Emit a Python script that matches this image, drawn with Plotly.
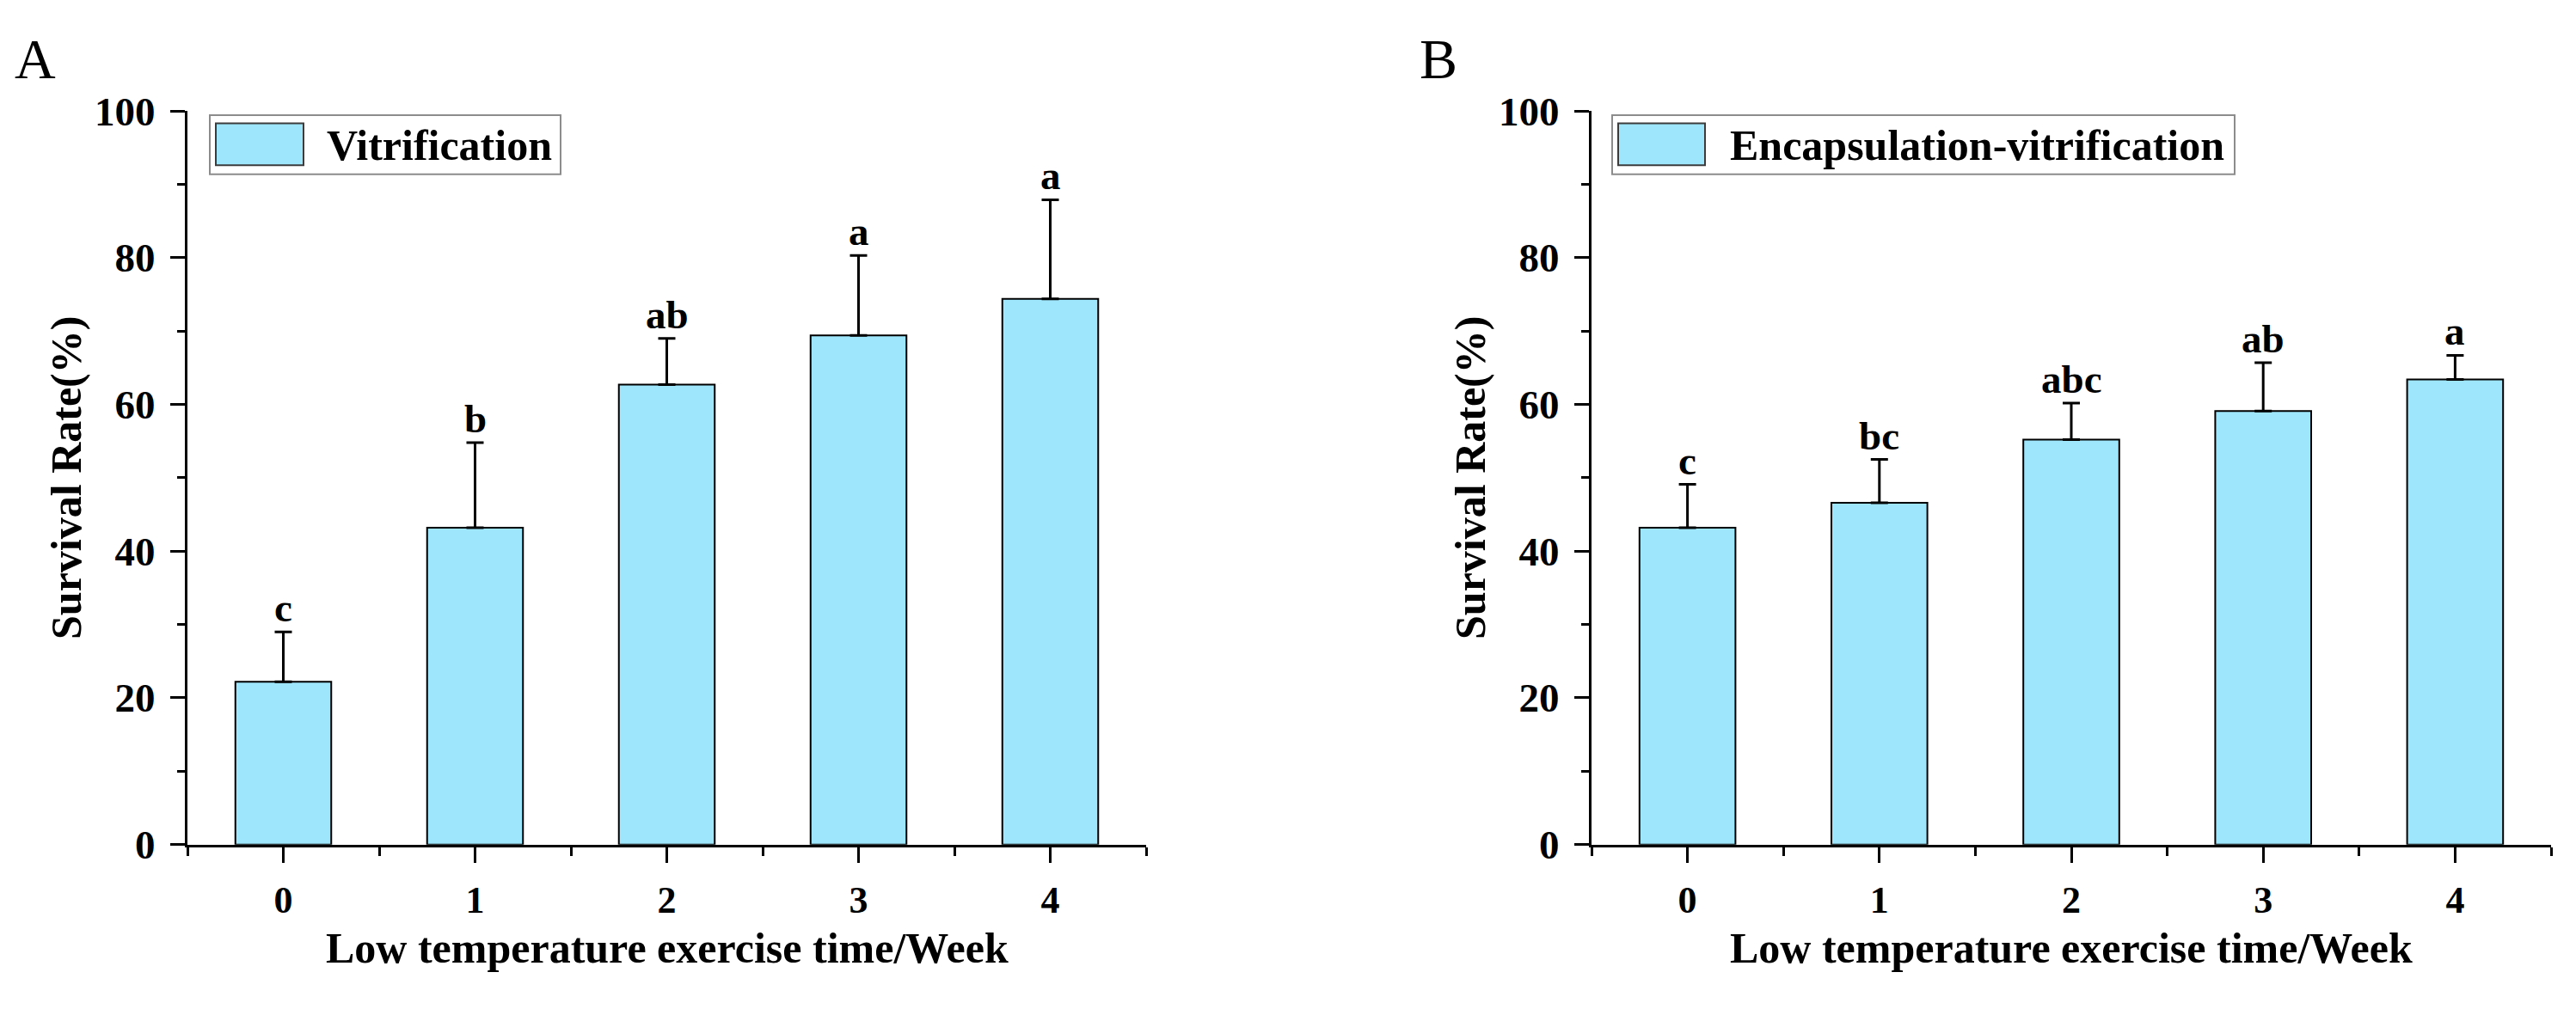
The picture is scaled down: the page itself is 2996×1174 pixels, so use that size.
import plotly.graph_objects as go
from plotly.subplots import make_subplots

# data
weeks = [0, 1, 2, 3, 4]
week_labels = ["0", "1", "2", "3", "4"]

vitri_mean = [22.2, 43.2, 62.7, 69.4, 74.4]
vitri_err = [6.8, 11.6, 6.3, 10.9, 13.5]
vitri_letters = ["c", "b", "ab", "a", "a"]

encap_mean = [43.2, 46.6, 55.2, 59.1, 63.4]
encap_err = [5.9, 5.9, 5.0, 6.6, 3.3]
encap_letters = ["c", "bc", "abc", "ab", "a"]

W, H = 2996, 1174
FONT = "Liberation Serif"
BAR_COLOR = "#9ee6fb"


def px_x(v):
    return v / W


def px_y(v):
    return 1 - v / H


fig = make_subplots(rows=1, cols=2)

for col, mean, err in [(1, vitri_mean, vitri_err), (2, encap_mean, encap_err)]:
    fig.add_trace(go.Bar(
        x=weeks, y=mean, width=0.5,
        marker=dict(color=BAR_COLOR, line=dict(color="black", width=2)),
        error_y=dict(type="data", array=err, arrayminus=[0] * len(err), symmetric=False,
                     color="black", thickness=3, width=10),
        showlegend=False,
    ), row=1, col=col)

# axes
xdomains = [[218 / W, 1333 / W], [1851 / W, 2967 / W]]
ydomain = [px_y(1001), px_y(108)]
for i in range(2):
    fig.update_xaxes(
        domain=xdomains[i], range=[-0.5, 4.5],
        tickmode="array", tickvals=weeks, ticktext=week_labels,
        showline=True, linecolor="black", linewidth=3,
        ticks="outside", ticklen=18, tickwidth=3, tickcolor="black",
        minor=dict(tickmode="array", tickvals=[-0.5, 0.5, 1.5, 2.5, 3.5, 4.5],
                   ticks="outside", ticklen=10, tickwidth=3, tickcolor="black"),
        tickfont=dict(family=FONT, size=44, color="black", weight="bold"),
        ticklabelstandoff=6,
        showgrid=False, zeroline=False,
        row=1, col=i + 1)
    fig.update_yaxes(
        domain=ydomain, range=[0, 100],
        tickmode="array", tickvals=[0, 20, 40, 60, 80, 100],
        showline=True, linecolor="black", linewidth=3,
        ticks="outside", ticklen=17, tickwidth=3, tickcolor="black",
        minor=dict(tickmode="array", tickvals=[10, 30, 50, 70, 90],
                   ticks="outside", ticklen=9, tickwidth=3, tickcolor="black"),
        tickfont=dict(family=FONT, size=47, color="black", weight="bold"),
        ticklabelstandoff=8,
        showgrid=False, zeroline=False,
        row=1, col=i + 1)

annotations = []

# significance letters
for xref, yref, mean, err, letters in [("x", "y", vitri_mean, vitri_err, vitri_letters),
                                       ("x2", "y2", encap_mean, encap_err, encap_letters)]:
    for wk, m, e, t in zip(weeks, mean, err, letters):
        annotations.append(dict(
            x=wk, y=m + e, xref=xref, yref=yref, text=t, showarrow=False,
            yanchor="bottom", yshift=0,
            font=dict(family=FONT, size=47, color="black", weight="bold")))

# axis titles
for xref, yref in [("x domain", "y domain"), ("x2 domain", "y2 domain")]:
    annotations.append(dict(
        x=0.5, y=px_y(1127), xref=xref, yref="paper",
        text="Low temperature exercise time/Week", showarrow=False,
        xanchor="center", yanchor="middle",
        font=dict(family=FONT, size=50, color="black", weight="bold")))
    annotations.append(dict(
        x=0, y=0.5, xref=xref, yref=yref, xshift=-141,
        text="Survival Rate(%)", showarrow=False, textangle=-90,
        xanchor="center", yanchor="middle",
        font=dict(family=FONT, size=50, color="black", weight="bold")))

# panel letters
for letter, cx in [("A", 41), ("B", 1673)]:
    annotations.append(dict(
        x=px_x(cx), y=px_y(44), xref="paper", yref="paper",
        text=letter, showarrow=False, xanchor="center", yanchor="middle",
        font=dict(family=FONT, size=66, color="black")))

# hand-drawn legends (large swatch like the original)
shapes = []
legends = [
    ("Vitrification", (244, 652), (251, 353), 378),
    ("Encapsulation-vitrification", (1875, 2599), (1882, 1983), 2010),
]
for label, (bx0, bx1), (sx0, sx1), tx in legends:
    shapes.append(dict(type="rect", xref="paper", yref="paper",
                       x0=px_x(bx0), x1=px_x(bx1), y0=px_y(185), y1=px_y(113),
                       line=dict(color="#8c8c8c", width=2), fillcolor="white"))
    shapes.append(dict(type="rect", xref="paper", yref="paper",
                       x0=px_x(sx0), x1=px_x(sx1), y0=px_y(174), y1=px_y(123),
                       line=dict(color="#3c3c3c", width=2), fillcolor=BAR_COLOR))
    annotations.append(dict(
        x=px_x(tx), y=px_y(150), xref="paper", yref="paper",
        text=label, showarrow=False, xanchor="left", yanchor="middle",
        font=dict(family=FONT, size=50, color="black", weight="bold")))

fig.update_layout(
    width=W, height=H,
    margin=dict(l=0, r=0, t=0, b=0),
    paper_bgcolor="white", plot_bgcolor="white",
    font=dict(family=FONT, color="black"),
    annotations=annotations, shapes=shapes,
    bargap=0.5,
)

fig.write_html("out.html", config={"displayModeBar": False},
               post_script="document.body.style.margin='0';")
